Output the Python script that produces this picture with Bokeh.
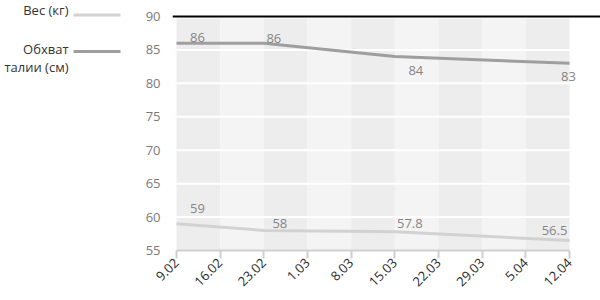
import math
from bokeh.plotting import figure
from bokeh.models import ColumnDataSource, FixedTicker, Span, Range1d
from bokeh.layouts import row
from bokeh.core.properties import value
from bokeh.embed import file_html
from bokeh.resources import INLINE

# ---- data ----
week_labels = ["9.02", "16.02", "23.02", "1.03", "8.03", "15.03", "22.03", "29.03", "5.04", "12.04"]
measure_dates = ["9.02", "23.02", "15.03", "12.04"]
weight = [59, 58, 57.8, 56.5]
waist = [86, 86, 84, 83]
weight_text = ["59", "58", "57.8", "56.5"]
waist_text = ["86", "86", "84", "83"]
y_ticks = [55, 60, 65, 70, 75, 80, 85, 90]
series_names = ["Вес (кг)", "Обхват\nталии (см)"]

# ---- styles ----
FONT = "Open Sans"
WEIGHT_COLOR = "#d2d2d2"
WAIST_COLOR = "#9e9e9e"
BAND_DARK = "#eeedee"
BAND_LIGHT = "#f5f4f5"
weight_dx = [21, 16, 15, -15]
weight_dy = [-15, -7, -8, -10]
waist_dx = [21, 10, 21, -1]
waist_dy = [-6, -5, 14, 13]

xs = [week_labels.index(d) for d in measure_dates]
n = len(week_labels)

FRAME_BOTTOM = 250   # pixel row of the lowest tick
TOP_LINE_PX = 16     # pixel row of the highest tick
px_per_week = 43.67
x_start = -4 / px_per_week
x_end = x_start + 428 / px_per_week
y_lo, y_hi = y_ticks[0], y_ticks[-1]
px_per_unit = (FRAME_BOTTOM - TOP_LINE_PX) / (y_hi - y_lo)
y_top = y_hi + TOP_LINE_PX / px_per_unit

p = figure(width=475, height=300, output_backend="svg", toolbar_location=None,
           x_range=Range1d(x_start, x_end), y_range=Range1d(y_lo, y_top),
           min_border_left=47, min_border_right=0,
           min_border_top=0, min_border_bottom=300 - FRAME_BOTTOM)
p.outline_line_color = None
p.background_fill_color = "white"
p.border_fill_color = "white"
p.xgrid.visible = False
p.ygrid.visible = False

# background column bands
band_src = ColumnDataSource(dict(
    left=list(range(n - 1)), right=list(range(1, n)),
    color=[BAND_DARK if i % 2 == 0 else BAND_LIGHT for i in range(n - 1)]))
p.quad(left="left", right="right", bottom=y_lo, top=y_hi - 2 / px_per_unit,
       fill_color="color", line_color=None, source=band_src)

# white horizontal grid lines
inner = y_ticks[1:-1]
p.segment(x0=[0] * len(inner), x1=[n - 1] * len(inner), y0=inner, y1=inner,
          line_color="white", line_width=2)

# top black line
p.add_layout(Span(location=y_hi, dimension="width", line_color="black", line_width=2))

# data lines
p.line(xs, weight, line_color=WEIGHT_COLOR, line_width=3)
p.line(xs, waist, line_color=WAIST_COLOR, line_width=3)

lab_src = ColumnDataSource(dict(
    x=xs + xs, y=weight + waist, t=weight_text + waist_text,
    dx=weight_dx + waist_dx, dy=weight_dy + waist_dy))
p.text(x="x", y="y", text="t", x_offset="dx", y_offset="dy", source=lab_src,
       text_font=value(FONT), text_font_size="13px", text_color="#858585",
       text_align="center", text_baseline="middle")

# x axis
xa = p.xaxis[0]
xa.ticker = FixedTicker(ticks=list(range(n)))
xa.major_label_overrides = {i: lab for i, lab in enumerate(week_labels)}
xa.bounds = (0, n - 1)
xa.axis_line_color = "#cfcfcf"
xa.axis_line_width = 2
xa.major_tick_line_color = "#cfcfcf"
xa.major_tick_line_width = 2
xa.major_tick_in = 0
xa.major_tick_out = 8
xa.minor_tick_line_color = None
xa.major_label_orientation = math.pi / 4
xa.major_label_text_font = FONT
xa.major_label_text_font_size = "13px"
xa.major_label_text_color = "#2a2a2a"
xa.major_label_standoff = 2

# y axis
ya = p.yaxis[0]
ya.ticker = FixedTicker(ticks=y_ticks)
ya.axis_line_color = None
ya.major_tick_line_color = None
ya.minor_tick_line_color = None
ya.major_label_text_font = FONT
ya.major_label_text_font_size = "13px"
ya.major_label_text_color = "#7a7a7a"
ya.major_label_standoff = 6

# legend panel (left); the row layout aligns its frame with the chart frame
# (page rows 0..FRAME_BOTTOM), so its ranges map 1:1 onto page pixels
lg = figure(width=125, height=300, output_backend="svg", toolbar_location=None,
            x_range=Range1d(0, 125), y_range=Range1d(FRAME_BOTTOM, 0),
            x_axis_type=None, y_axis_type=None,
            min_border=0, min_border_left=0, min_border_right=0,
            min_border_top=0, min_border_bottom=300 - FRAME_BOTTOM)
lg.grid.visible = False
lg.outline_line_color = None
lg.border_fill_color = "white"
lg.background_fill_color = "white"

legend_lines = []
for name in series_names:
    legend_lines.extend(name.split("\n"))
legend_text_y = [9, 48, 66]
lg.text(x=[68] * len(legend_lines), y=legend_text_y, text=legend_lines,
        text_font=value(FONT), text_font_size="13px", text_color="#333333",
        text_align="right", text_baseline="middle")
lg.segment(x0=[73], x1=[120], y0=[14.5], y1=[14.5], line_color=WEIGHT_COLOR, line_width=3)
lg.segment(x0=[73], x1=[120], y0=[51], y1=[51], line_color=WAIST_COLOR, line_width=3)

layout = row(lg, p)
open("out.html", "w").write(file_html(layout, INLINE))
